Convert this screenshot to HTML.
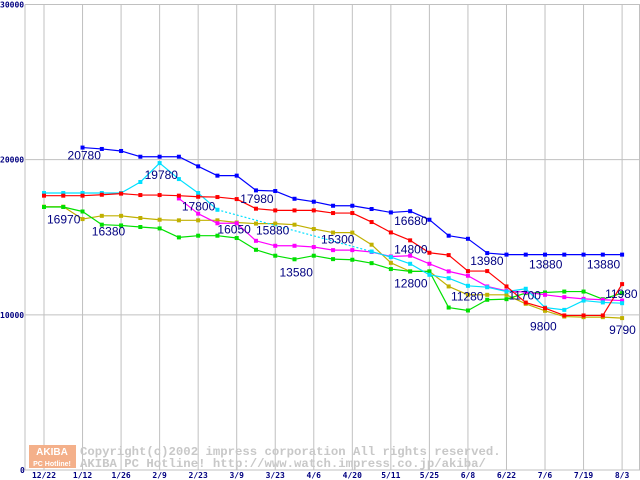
<!DOCTYPE html>
<html><head><meta charset="utf-8"><style>
html,body{margin:0;padding:0;background:#fff;width:640px;height:480px;overflow:hidden}
svg{display:block}
.ax{font-family:"DejaVu Sans Mono","Liberation Mono",monospace;font-size:8px;font-weight:bold;fill:#000080}
.lb{font-family:"Liberation Sans","DejaVu Sans",sans-serif;font-size:12px;fill:#000080}
.wm{font-family:"Liberation Mono","DejaVu Sans Mono",monospace;font-size:12.3px;fill:#c8c8c8;font-weight:bold}
</style></head><body>
<svg id="chart" width="640" height="480" xmlns="http://www.w3.org/2000/svg">
<g id="grid"></g>
<g id="wm">
 <rect x="29" y="445" width="47" height="23" fill="#f4b08a"/>
 <text x="52" y="455" text-anchor="middle" font-family="Liberation Sans,sans-serif" font-size="10" font-weight="bold" fill="#fff">AKIBA</text>
 <text x="52" y="466" text-anchor="middle" font-family="Liberation Sans,sans-serif" font-size="7" font-weight="bold" fill="#fff">PC Hotline!</text>
 <text class="wm" x="80" y="455">Copyright(c)2002 impress corporation All rights reserved.</text>
 <text class="wm" x="80" y="467">AKIBA PC Hotline!  http://www.watch.impress.co.jp/akiba/</text>
</g>
<g id="series"></g>
<g id="labels"></g>
</svg>
<script>
const categories=["12/22","1/12","1/26","2/9","2/23","3/9","3/23","4/6","4/20","5/11","5/25","6/8","6/22","7/6","7/19","8/3"];
const yTicks=[0,10000,20000,30000];
const blue=[null,null,20780,20690,20560,20190,20190,20190,19570,18970,18970,18020,17980,17480,17290,17030,17030,16820,16600,16680,16130,15100,14900,13980,13880,13880,13880,13880,13880,13880,13880];
const red=[17680,17680,17680,17740,17810,17720,17720,17680,17610,17590,17460,16840,16730,16730,16730,16560,16560,15980,15310,14800,14000,13850,12820,12820,11830,10790,10430,9960,9960,9960,11980];
const cyan=[17850,17850,17850,17850,17850,18560,19780,18750,17850,16770,null,null,null,null,null,null,null,14080,13720,13290,12580,12360,11870,11780,11500,11680,10470,10320,10920,10800,10750];
const magenta=[null,null,null,null,null,null,null,17500,16520,15900,15900,14770,14450,14450,14370,14170,14170,14050,13760,13810,13290,12800,12520,11830,11550,11460,11290,11140,11030,10970,10920];
const yellow=[16970,16970,16170,16380,16380,16240,16130,16090,16090,16090,15950,15880,15880,15810,15530,15300,15300,14520,13350,12800,12800,11830,11290,11290,11290,10710,10260,9890,9850,9850,9790];
const green=[16950,16950,16660,15810,15760,15660,15570,14990,15100,15100,14950,14190,13810,13580,13810,13590,13550,13330,12950,12800,12800,10470,10280,10970,11010,11400,11440,11500,11500,11010,11400];
const labelText=["20780","19780","17800","17980","16970","16380","16050","15880","15300","13580","16680","14800","12800","13980","11280","11700","13880","9800","13880","11980","9790"];
const labelIdx=[2,6,7,12,0,3,9,11,15,13,19,19,19,23,22,24,26,26,29,30,30];
const labelVal=[20780,19780,17500,17980,16970,15810,15900,15880,15300,13580,16680,14800,12800,13980,10280,11500,13880,9960,13880,11980,9790];
const labelDx=[-15,-15,3,-35,3,-10,0,0,-12,-15,-16,-16,-16,-17,-17,2,-16,-15,-16,-17,-13];
const labelDy=[12,16,12,12,17,11,10,11,11,17,14,13,16,12,-10,8,14,15,14,14,16];
const NS="http://www.w3.org/2000/svg";
const X0=44, STEP=19.27, Y0=470, YTOP=4.5, YMAX=30000;
function xs(i){return X0+i*STEP;}
function ys(v){return Y0-(v/YMAX)*(Y0-YTOP);}
function mk(tag,attrs,parent){const e=document.createElementNS(NS,tag);for(const k in attrs)e.setAttribute(k,attrs[k]);parent.appendChild(e);return e;}
const grid=document.getElementById('grid');
let e=mk('line',{x1:25,y1:YTOP,x2:25,y2:Y0,stroke:'#c0c0c0','stroke-width':1},grid);


e=mk('line',{x1:639.5,y1:YTOP,x2:639.5,y2:Y0,stroke:'#c0c0c0','stroke-width':1},grid);


yTicks.forEach(t=>{
  const y=ys(t);
  const l=mk('line',{x1:25,y1:y,x2:640,y2:y,stroke:'#c0c0c0','stroke-width':1},grid);
  
  
  const tx=mk('text',{x:t==0?20:0,y:y+3,class:'ax'},grid);
  tx.textContent=String(t);
  
  
});
categories.forEach((c,k)=>{
  const x=xs(k*2);
  const l=mk('line',{x1:x,y1:YTOP,x2:x,y2:Y0,stroke:'#c0c0c0','stroke-width':1},grid);
  
  
  const tx=mk('text',{x:x,y:478,class:'ax','text-anchor':'middle'},grid);
  tx.textContent=c;
  
  
});
const sg=document.getElementById('series');
function draw(vals,color,name){
  const g=mk('g',{},sg);
  
  
  let prev=null;
  for(let i=0;i<vals.length;i++){
    if(vals[i]==null)continue;
    const p=[xs(i),ys(vals[i])];
    if(prev){
      const gap=i-prev.i>1;
      const l=mk('line',{x1:prev.p[0],y1:prev.p[1],x2:p[0],y2:p[1],stroke:color,'stroke-width':1.2},g);
      if(gap)l.setAttribute('stroke-dasharray','2,2');
      
      
    }
    prev={i:i,p:p};
  }
  for(let i=0;i<vals.length;i++){
    if(vals[i]==null)continue;
    const r=mk('rect',{x:xs(i)-2,y:ys(vals[i])-2,width:4,height:4,fill:color},g);
    
    
  }
}
draw(yellow,'#c0b000','series-yellow');
draw(green,'#00e000','series-green');
draw(magenta,'#ff00ff','series-magenta');
draw(cyan,'#00e0ff','series-cyan');
draw(red,'#ff0000','series-red');
draw(blue,'#0000ff','series-blue');
const lg=document.getElementById('labels');
labelText.forEach((t,k)=>{
  const tx=mk('text',{x:xs(labelIdx[k])+labelDx[k],y:ys(labelVal[k])+labelDy[k],class:'lb'},lg);
  tx.textContent=t;
  
  
});
</script>
</body></html>
